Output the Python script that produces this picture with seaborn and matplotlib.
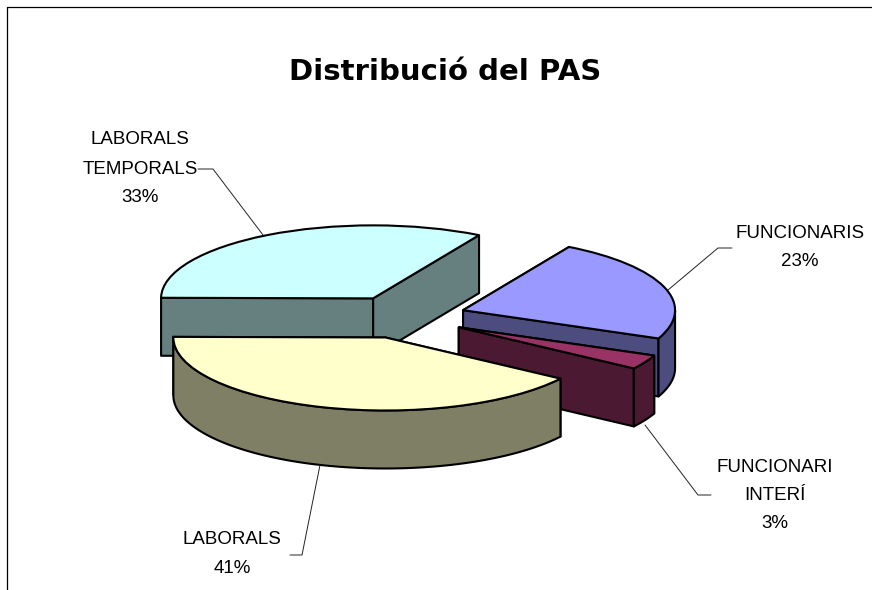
import matplotlib

matplotlib.use("Agg")
import matplotlib.pyplot as plt
import numpy as np
import seaborn as sns
from matplotlib.lines import Line2D

title = "Distribució del PAS"
categories = ["FUNCIONARIS", "FUNCIONARI\nINTERÍ", "LABORALS", "LABORALS\nTEMPORALS"]
values = [23.0, 3.2, 40.6, 33.2]
top_colors = ["#9999FF", "#993366", "#FFFFCC", "#CCFFFF"]
side_colors = ["#4C4C7F", "#4C1933", "#7F7F66", "#667F7F"]
explode = [0.294, 0.294, 0.294, 0.294]
# back to front
draw_rank = [1, 2, 3, 0]

W, H = 872, 590
CX, CY = 404, 317
RX, RY = 212, 73
DEPTH = 58 / RY
LW = 1.5

# label centre x, centre y of each line is worked out from the first one
label_pos = [(800, 233), (775, 467), (232, 539), (140, 140)]
line_step = [29, 28.5, 29.5, 29]
leaders = [
    [(668, 290), (718, 248), (732, 248)],
    [(645, 425), (698, 495), (711, 495)],
    [(320, 465), (302, 555), (290, 555)],
    [(263, 235), (213, 169), (198, 169)],
]

sns.set_theme(style="white")
plt.rcParams["font.family"] = ["Liberation Sans", "DejaVu Sans"]

fig = plt.figure(figsize=(W / 100, H / 100), dpi=100, facecolor="white")
ax = fig.add_axes([0, 0, 1, 1])

wedges, _ = ax.pie(
    values,
    explode=explode,
    colors=sns.color_palette(top_colors),
    startangle=60,
    counterclock=False,
    wedgeprops={"edgecolor": "black", "linewidth": LW},
)
ax.set_aspect("auto")
ax.set_xlim(-CX / RX, (W - CX) / RX)
ax.set_ylim(-(H - CY) / RY, CY / RY)


def rim(w, t):
    return w.center[0] + w.r * np.cos(np.radians(t)), w.center[1] + w.r * np.sin(np.radians(t))


for w, col, rank in zip(wedges, side_colors, draw_rank):
    z = 10 * (rank + 1)
    w.set_zorder(z + 5)
    cx, cy = w.center
    walls = []
    for t in (w.theta1, w.theta2):
        px, py = rim(w, t)
        walls.append(([cx, px, px, cx], [cy, py, py - DEPTH, cy - DEPTH]))
    # the wall further back goes first
    walls.sort(key=lambda p: -np.mean(p[1]))
    ts = np.linspace(w.theta1, w.theta2, 200)
    ts = ts[np.sin(np.radians(ts)) < 0]
    if len(ts) > 1:
        xs, ys = rim(w, ts)
        walls.append((np.r_[xs, xs[::-1]], np.r_[ys, ys[::-1] - DEPTH]))
    for i, (xs, ys) in enumerate(walls):
        ax.fill(xs, ys, facecolor=col, edgecolor="black", linewidth=LW, joinstyle="round", zorder=z + i * 0.1)


def to_fig(x, y):
    return x / W, 1 - y / H


# frame, only top and left are in the picture
xs, ys = zip(*[to_fig(*p) for p in [(7, 590), (7, 7), (872, 7)]])
fig.add_artist(Line2D(xs, ys, color="black", lw=0.9))

fig.text(*to_fig(445, 80), title, family="DejaVu Sans", weight="bold", fontsize=21,
         color="black", ha="center", va="baseline")

for name, val, (x, y), step, pts in zip(categories, values, label_pos, line_step, leaders):
    lines = name.split("\n") + [f"{val:.0f}%"]
    for i, line in enumerate(lines):
        fig.text(*to_fig(x, y + i * step), line, fontsize=13.5, color="black", ha="center", va="center")
    xs, ys = zip(*[to_fig(*p) for p in pts])
    fig.add_artist(Line2D(xs, ys, color="#222222", lw=0.7))

plt.savefig("out.png", dpi=100)
